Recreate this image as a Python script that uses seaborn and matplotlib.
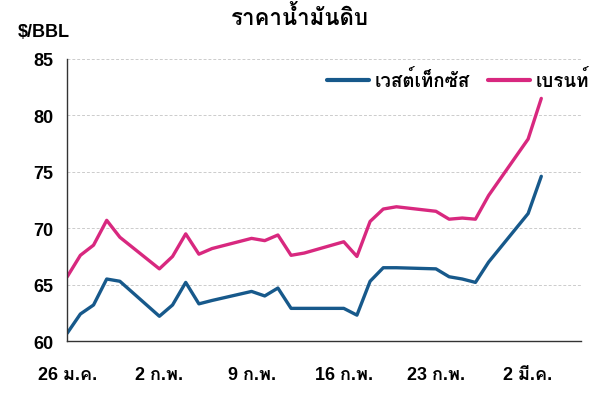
import pandas as pd
import matplotlib
matplotlib.use("Agg")
import matplotlib.pyplot as plt
from matplotlib import font_manager
from matplotlib.ft2font import FT2Font
import seaborn as sns

# --- Dados ---
dates = ["2026-01-26", "2026-01-27", "2026-01-28", "2026-01-29", "2026-01-30",
         "2026-02-02", "2026-02-03", "2026-02-04", "2026-02-05", "2026-02-06",
         "2026-02-09", "2026-02-10", "2026-02-11", "2026-02-12", "2026-02-13",
         "2026-02-16", "2026-02-17", "2026-02-18", "2026-02-19", "2026-02-20",
         "2026-02-23", "2026-02-24", "2026-02-25", "2026-02-26", "2026-02-27",
         "2026-03-02", "2026-03-03"]
wti = [60.7, 62.4, 63.2, 65.5, 65.3,
       62.2, 63.2, 65.2, 63.3, 63.6,
       64.4, 64.0, 64.7, 62.9, 62.9,
       62.9, 62.3, 65.3, 66.5, 66.5,
       66.4, 65.7, 65.5, 65.2, 67.0,
       71.3, 74.6]
brent = [65.7, 67.6, 68.5, 70.7, 69.2,
         66.4, 67.5, 69.5, 67.7, 68.2,
         69.1, 68.9, 69.4, 67.6, 67.8,
         68.8, 67.5, 70.6, 71.7, 71.9,
         71.5, 70.8, 70.9, 70.8, 72.9,
         77.9, 81.5]
series_names = ["เวสต์เท็กซัส", "เบรนท์"]
tick_dates = ["2026-01-26", "2026-02-02", "2026-02-09", "2026-02-16", "2026-02-23", "2026-03-02"]
tick_labels = ["26 ม.ค.", "2 ก.พ.", "9 ก.พ.", "16 ก.พ.", "23 ก.พ.", "2 มี.ค."]
colors = ["#17598b", "#d8287f"]

# --- Fonte com suporte a tailandês ---
thai_family = None
for f in font_manager.fontManager.ttflist:
    try:
        if 0x0E23 in FT2Font(f.fname).get_charmap():
            thai_family = f.name
            break
    except Exception:
        continue

sns.set_theme(style="white")
fams = ["Liberation Sans"] + ([thai_family] if thai_family else []) + ["DejaVu Sans"]
plt.rcParams["font.family"] = fams
plt.rcParams["text.color"] = "black"

df = pd.DataFrame({"date": pd.to_datetime(dates), series_names[0]: wti, series_names[1]: brent})
long = df.melt(id_vars="date", var_name="serie", value_name="preco")

fig = plt.figure(figsize=(6, 4.02), dpi=100)
ax = fig.add_axes([0.112, 0.149, 0.856, 0.702])

sns.lineplot(data=long, x="date", y="preco", hue="serie", palette=colors,
             linewidth=2.4, ax=ax)

ax.set_ylim(60, 85)
ax.set_yticks([60, 65, 70, 75, 80, 85])
ax.set_xlim(pd.Timestamp("2026-01-26"), pd.Timestamp("2026-03-06"))
ax.set_xticks(pd.to_datetime(tick_dates))
ax.set_xticklabels(tick_labels)
ax.set_xlabel("")
ax.set_ylabel("")

for y in [65, 70, 75, 80, 85]:
    ax.axhline(y, color="#cccccc", linestyle=(0, (3, 2)), linewidth=0.7, zorder=0)

for side in ["top", "right"]:
    ax.spines[side].set_visible(False)
for side in ["left", "bottom"]:
    ax.spines[side].set_color("#333333")
    ax.spines[side].set_linewidth(1.0)

ax.tick_params(axis="both", which="major", direction="out", length=6, width=1,
               color="#333333", labelcolor="black", labelsize=13, pad=4)
ax.tick_params(axis="x", pad=12)
for lab in ax.get_xticklabels() + ax.get_yticklabels():
    lab.set_fontweight("bold")

leg = ax.legend(loc="upper right", bbox_to_anchor=(1.03, 0.99), frameon=False,
                ncol=2, handlelength=2.2, handletextpad=0.3, columnspacing=1.0,
                borderaxespad=0, prop={"weight": "bold", "size": 13.5})
for line in leg.get_lines():
    line.set_linewidth(3)

fig.text(0.5, 0.955, "ราคาน้ำมันดิบ", ha="center", va="center",
         fontsize=16, fontweight="bold")
fig.text(0.03, 0.92, "$/BBL", ha="left", va="center", fontsize=13, fontweight="bold")

fig.savefig("out.png", dpi=100)
